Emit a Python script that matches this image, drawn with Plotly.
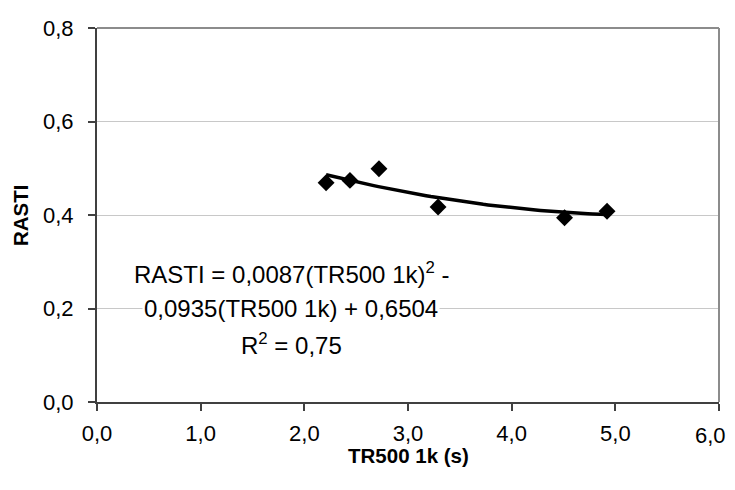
import numpy as np
import plotly.graph_objects as go

# Measured points (TR500 1k in s, RASTI)
tr500_1k = [2.21, 2.44, 2.72, 3.29, 4.51, 4.92]
rasti = [0.469, 0.474, 0.499, 0.417, 0.394, 0.408]

# Displayed polynomial trendline coefficients (a*x^2 + b*x + c) and R^2
trend_coef = [0.0087, -0.0935, 0.6504]
eq_lines = ["RASTI = 0,0087(TR500 1k)<sup>2</sup> -",
            "0,0935(TR500 1k) + 0,6504",
            "R<sup>2</sup> = 0,75"]
eq_line_y = [0.275, 0.200, 0.124]

x_ticks = [0, 1, 2, 3, 4, 5, 6]
x_tick_labels = ["0,0", "1,0", "2,0", "3,0", "4,0", "5,0", "6,0"]
y_ticks = [0, 0.2, 0.4, 0.6, 0.8]
y_tick_labels = ["0,0", "0,2", "0,4", "0,6", "0,8"]

FONT = "Arial, 'Liberation Sans', sans-serif"

tx = np.linspace(min(tr500_1k), max(tr500_1k), 60)
ty = np.polyval(trend_coef, tx)

fig = go.Figure()
fig.add_trace(go.Scatter(x=tx, y=ty, mode="lines",
                         line=dict(color="black", width=3.5),
                         hoverinfo="skip", showlegend=False))
fig.add_trace(go.Scatter(x=tr500_1k, y=rasti, mode="markers",
                         marker=dict(symbol="diamond", size=13, color="black"),
                         showlegend=False))

for txt, yy in zip(eq_lines, eq_line_y):
    fig.add_annotation(x=1.874, y=yy, xref="x", yref="y", text=txt,
                       showarrow=False, xanchor="center", yanchor="middle",
                       bgcolor="white", borderpad=1,
                       font=dict(family=FONT, size=24, color="black"))

# axis titles
fig.add_annotation(x=0.5, y=-0.144, xref="paper", yref="paper",
                   text="<b>TR500 1k (s)</b>", showarrow=False,
                   xanchor="center", yanchor="middle",
                   font=dict(family=FONT, size=20.5, color="black"))
fig.add_annotation(x=-0.1238, y=0.5, xref="paper", yref="paper",
                   text="<b>RASTI</b>", showarrow=False, textangle=-90,
                   xanchor="center", yanchor="middle",
                   font=dict(family=FONT, size=20.5, color="black"))

# the last x tick label sits at the very edge of the page; plotly hides it
# when it overflows, so draw it just inside the figure edge
fig.add_annotation(x=x_ticks[-1], y=-0.089, xref="x", yref="paper",
                   text=x_tick_labels[-1], showarrow=False,
                   xanchor="right", yanchor="middle", xshift=9,
                   font=dict(family=FONT, size=22, color="black"))

fig.update_layout(
    width=719, height=474,
    margin=dict(l=89, r=8, t=20, b=80),
    paper_bgcolor="white", plot_bgcolor="white",
    font=dict(family=FONT, color="black"),
)
fig.update_xaxes(range=[0, 6], tickvals=x_ticks, ticktext=x_tick_labels,
                 showgrid=False, zeroline=False,
                 showline=True, linecolor="#404040", linewidth=2,
                 ticks="outside", ticklen=7, tickcolor="#404040", tickwidth=1.5,
                 ticklabelstandoff=4,
                 tickfont=dict(family=FONT, size=22, color="black"))
fig.update_yaxes(range=[0, 0.8], tickvals=y_ticks, ticktext=y_tick_labels,
                 showgrid=True, gridcolor="#c8c8c8", gridwidth=1, zeroline=False,
                 showline=True, linecolor="#404040", linewidth=2,
                 ticks="outside", ticklen=7, tickcolor="#404040", tickwidth=1.5,
                 ticklabelstandoff=10,
                 tickfont=dict(family=FONT, size=22, color="black"))

# plot-area border (top and right, grey)
fig.add_shape(type="line", xref="paper", yref="paper", x0=0, x1=1, y0=1, y1=1,
              line=dict(color="#8c8c8c", width=2))
fig.add_shape(type="line", xref="paper", yref="paper", x0=1, x1=1, y0=0, y1=1,
              line=dict(color="#8c8c8c", width=2))

fig.write_html("out.html")
